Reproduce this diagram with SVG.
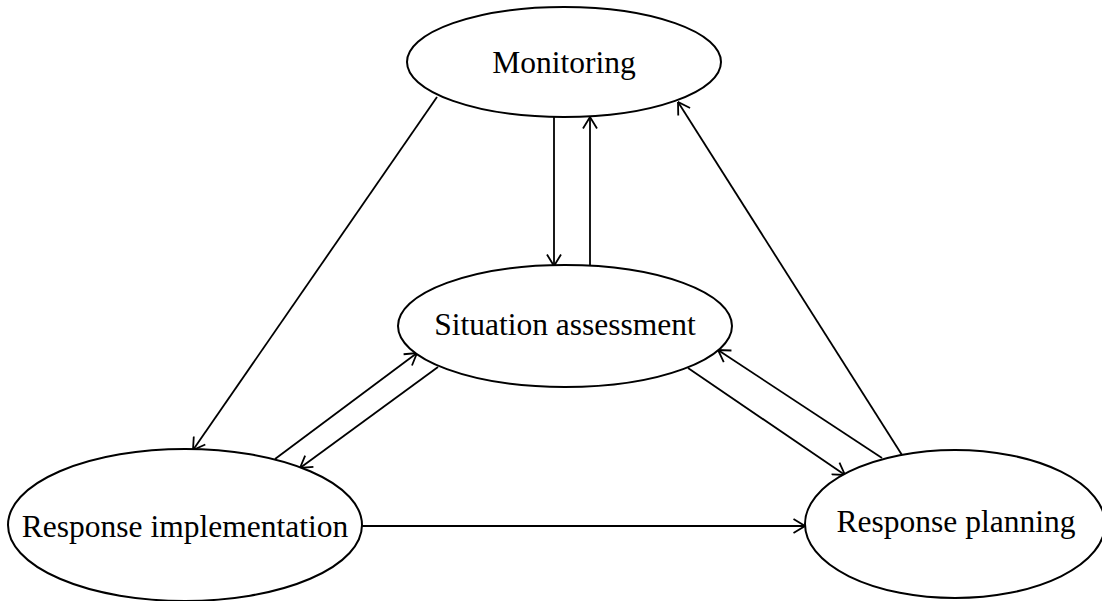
<svg xmlns="http://www.w3.org/2000/svg" width="1102" height="601" viewBox="0 0 1102 601">
<style>
  .node ellipse { fill: #fff; stroke: #000; stroke-width: 2; }
  .node text { font-family: "Liberation Serif", "Times New Roman", serif; font-size: 31.5px; fill: #000; text-anchor: middle; }
  .edges line { stroke: #000; stroke-width: 1.8; fill: none; marker-end: url(#arr); }
</style>
<defs>
  <marker id="arr" markerUnits="userSpaceOnUse" viewBox="0 0 13 16" markerWidth="13" markerHeight="16" refX="12.5" refY="8" orient="auto">
    <path d="M1,1 L12.5,8 L1,15" fill="none" stroke="#000" stroke-width="1.8"/>
  </marker>
</defs>
<rect width="1102" height="601" fill="#fff"/>
<g class="edges" id="connectors">
  <line x1="554" y1="117" x2="554" y2="266"/>
  <line x1="590" y1="266" x2="590" y2="117"/>
  <line x1="437" y1="97" x2="193" y2="450"/>
  <line x1="275" y1="459" x2="417" y2="353"/>
  <line x1="438" y1="367" x2="300" y2="468"/>
  <line x1="688" y1="368" x2="845" y2="475"/>
  <line x1="882" y1="458" x2="718" y2="350"/>
  <line x1="902" y1="455" x2="678" y2="102"/>
  <line x1="362" y1="526" x2="805" y2="526"/>
</g>
<g class="node" id="monitoring">
  <ellipse cx="564" cy="62" rx="157" ry="55"/>
  <text x="564" y="73">Monitoring</text>
</g>
<g class="node" id="situation-assessment">
  <ellipse cx="565" cy="326" rx="167" ry="61"/>
  <text x="565" y="335">Situation assessment</text>
</g>
<g class="node" id="response-implementation">
  <ellipse cx="185" cy="525" rx="177" ry="76"/>
  <text x="185" y="537">Response implementation</text>
</g>
<g class="node" id="response-planning">
  <ellipse cx="955" cy="524" rx="150" ry="74"/>
  <text x="956" y="532">Response planning</text>
</g>
</svg>
